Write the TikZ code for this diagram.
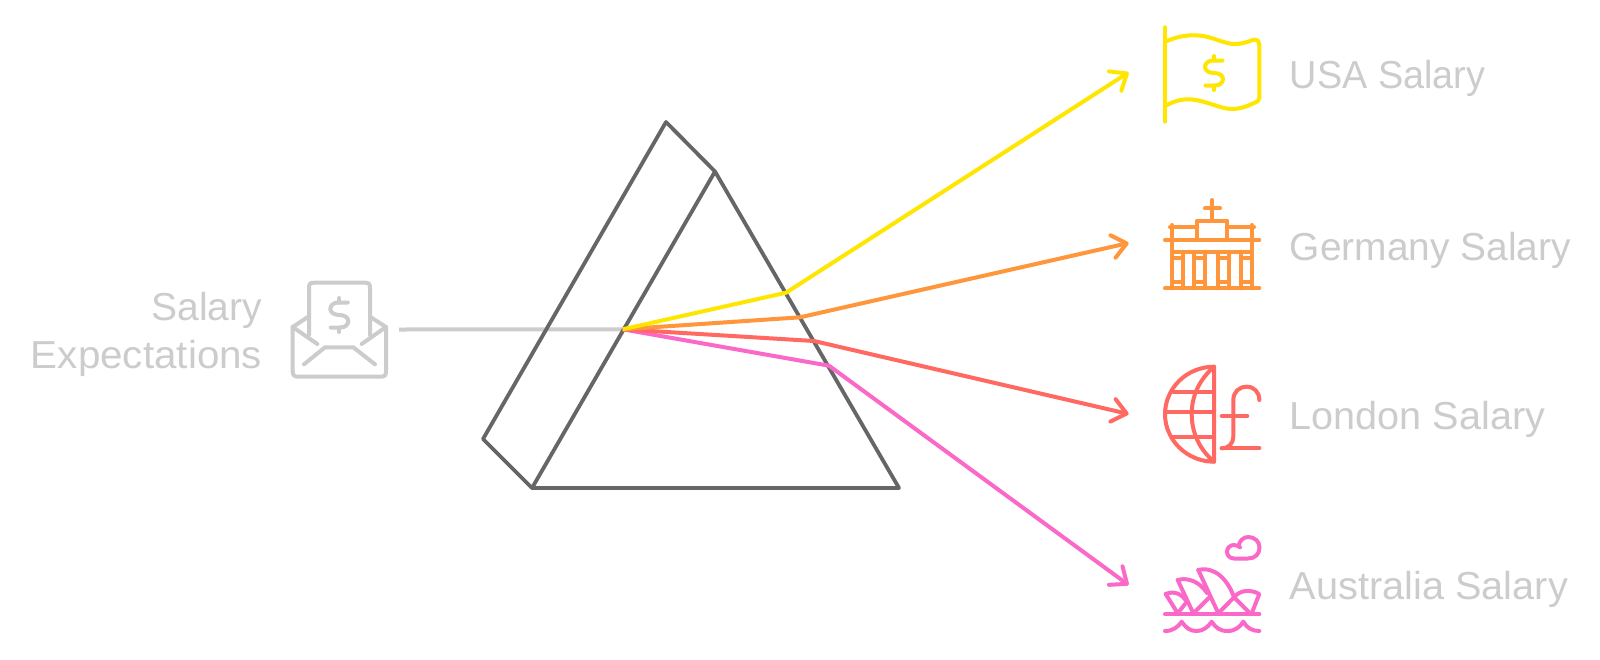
\documentclass[tikz,border=0pt]{standalone}
\usepackage{fontspec}
\setmainfont{Liberation Sans}
\usetikzlibrary{arrows.meta}
\definecolor{cgrey}{HTML}{CCCCCC}
\definecolor{cdark}{HTML}{666666}
\definecolor{cyel}{HTML}{FFE600}
\definecolor{corg}{HTML}{FF963C}
\definecolor{cred}{HTML}{FF6961}
\definecolor{cpink}{HTML}{FA69C8}
\tikzset{
  x=0.5pt,y=-0.5pt,
  icon/.style={line width=2pt,line cap=round,line join=round},
  ray/.style={line width=2pt,line join=round,-{Straight Barb[length=7pt,width=11.5pt,round]}},
  prismline/.style={draw=cdark,line width=1.9pt,line join=round},
  label/.style={text=cgrey,font=\fontsize{19.5pt}{24pt}\selectfont,inner sep=0pt},
  dollarsign/.pic={
    \draw[icon,pic actions] (8.5,-12.5) -- (-1,-12.5) .. controls (-6,-12.5) and (-9,-9.5) .. (-9,-6)
      .. controls (-9,-2.5) and (-5,0) .. (0,0) .. controls (5,0) and (9,2.5) .. (9,6)
      .. controls (9,9.5) and (6,12.5) .. (1,12.5) -- (-8.5,12.5);
    \draw[icon,pic actions] (0,-12.5) -- (0,-17) (0,12.5) -- (0,17);
  }
}
\begin{document}
\begin{tikzpicture}
\path[use as bounding box,fill=white] (0,0) rectangle (1600,659);
% coordinates
\coordinate (src) at (399,329.5);
\coordinate (focus) at (622.7,329.3);
\coordinate (ybend) at (786,292.7);
\coordinate (obend) at (800,317.3);
\coordinate (rbend) at (814,341);
\coordinate (pbend) at (829,365.7);
\coordinate (yend) at (1128.6,72.4);
\coordinate (oend) at (1128.6,243);
\coordinate (rend) at (1128.6,414);
\coordinate (pend) at (1128.6,585);
\coordinate (pa) at (666,122);
\coordinate (pb) at (715,171.5);
\coordinate (pc) at (899,488);
\coordinate (pd) at (532,488);
\coordinate (pe) at (483,439);
% beam in
\draw[cgrey,line width=2pt] (src) -- (focus);
% prism
\draw[prismline] (pa) -- (pb) -- (pc) -- (pd) -- (pe) -- cycle;
\draw[prismline] (pb) -- (pd);
% rays
\draw[ray,cpink] (focus) -- (pbend) -- (pend);
\draw[ray,cred] (focus) -- (rbend) -- (rend);
\draw[ray,corg] (focus) -- (obend) -- (oend);
\draw[ray,cyel] (focus) -- (ybend) -- (yend);
% labels
\node[label,anchor=east] (salary) at (262.5,310) {Salary};
\node[label,anchor=east] (expect) at (262.5,358) {\scalebox{1.035}[1]{Expectations}};
\node[label,anchor=west] (usa) at (1289.5,78.5) {\scalebox{0.97}[1]{USA Salary}};
\node[label,anchor=west] (ger) at (1289.5,250) {\scalebox{0.997}[1]{Germany Salary}};
\node[label,anchor=west] (lon) at (1289.5,419) {\scalebox{1.015}[1]{London Salary}};
\node[label,anchor=west] (aus) at (1289.5,589) {\scalebox{1.018}[1]{Australia Salary}};
% envelope icon
\begin{scope}[icon,cgrey]
\draw (309,335) -- (309,288) .. controls (309,284) and (310,282.7) .. (314,282.7) -- (365,282.7) .. controls (369,282.7) and (370,284) .. (370,288) -- (370,335);
\draw (308.3,316.7) -- (292.7,327) -- (292.7,371) .. controls (292.7,375) and (294,376.7) .. (298,376.7) -- (381,376.7) .. controls (385,376.7) and (386,375) .. (386,371) -- (386,327) -- (370,316.7);
\draw (292.7,327) -- (317.3,344);
\draw (386,327) -- (361.7,344);
\draw (304,364.3) -- (325,347.3) -- (353.3,347.3) -- (375,364.3);
\pic[cgrey] at (339.3,315) {dollarsign};
\end{scope}
% flag icon
\begin{scope}[icon,cyel]
\draw (1165.3,27.3) -- (1165.3,121.7);
\draw (1165.3,41.7) .. controls (1178,36) and (1190,34) .. (1203,36) .. controls (1215,38) and (1225,44) .. (1235,44) .. controls (1243,44) and (1250,41) .. (1254,39.5) .. controls (1257,39) and (1259.3,41) .. (1259.3,44) -- (1259.3,98) .. controls (1259.3,101) and (1257,102) .. (1254,103) .. controls (1248,106) and (1240,109) .. (1232,109) .. controls (1220,109) and (1205,100) .. (1190,99.3) .. controls (1180,99) and (1172,102) .. (1165.3,106);
\pic[cyel] at (1214,73) {dollarsign};
\end{scope}
% gate icon
\begin{scope}[icon,corg]
\draw (1211.7,200) -- (1211.7,220.7) (1205,208.3) -- (1220,208.3);
\draw (1197.3,240) -- (1197.3,220.7) -- (1227.3,220.7) -- (1227.3,240);
\draw (1165,240) -- (1259.3,240);
\draw (1170,227.3) -- (1197.3,227.3) (1227.3,227.3) -- (1254,227.3);
\draw (1172.3,225) -- (1172.3,288.3) (1251.7,225) -- (1251.7,288.3);
\draw (1172.3,251.7) -- (1251.7,251.7);
\draw (1165,288.3) -- (1259.3,288.3);
\foreach \cx in {1182.7,1194,1205,1218.3,1229.3,1240.7} \draw (\cx,251.7) -- (\cx,288.3);
\foreach \cy in {258.3,281.7} {
  \draw (1172.3,\cy) -- (1182.7,\cy) (1194,\cy) -- (1205,\cy) (1218.3,\cy) -- (1229.3,\cy) (1240.7,\cy) -- (1251.7,\cy);
}
\end{scope}
% globe pound icon
\begin{scope}[icon,cred]
\draw (1214,366.7) -- (1214,461.7) .. controls (1187,461.7) and (1165,440) .. (1165,414.2) .. controls (1165,388) and (1187,366.7) .. (1214,366.7);
\draw (1214,366.7) .. controls (1199,380) and (1191.7,396) .. (1191.7,414.2) .. controls (1191.7,432) and (1199,449) .. (1214,461.7);
\draw (1173.3,391.7) -- (1214,391.7) (1165,412.3) -- (1214,412.3) (1173.3,436.7) -- (1214,436.7);
\draw (1221.7,448.3) -- (1259.3,448.3);
\draw (1221.7,448.3) .. controls (1229,448.3) and (1233.3,443) .. (1233.3,436.7) -- (1233.3,400) .. controls (1233.3,392) and (1239,386.7) .. (1246.7,386.7) .. controls (1254,386.7) and (1259.3,392) .. (1259.3,400);
\draw (1221.7,416) -- (1247.3,416);
\end{scope}
% opera icon
\begin{scope}[icon,cpink]
\draw (1240,547.3) .. controls (1238.5,546) and (1236,545) .. (1234,545) .. controls (1230,545) and (1227,548) .. (1227,551.7) .. controls (1227,555.5) and (1230,558.5) .. (1234,558.5) -- (1248,558.5) .. controls (1255,558.5) and (1259.5,554) .. (1259.5,547.5) .. controls (1259.5,541) and (1254,537) .. (1248.3,537) .. controls (1243,537) and (1239.5,541) .. (1238.5,546);
\draw (1165,614.3) -- (1259.3,614.3);
\draw (1165,631) .. controls (1173,631) and (1178,627) .. (1181.7,621.7) .. controls (1186,628) and (1190,631) .. (1196.7,631) .. controls (1203,631) and (1208,627) .. (1211.7,621.7) .. controls (1216,628) and (1220,631) .. (1227.5,631) .. controls (1235,631) and (1240,627) .. (1243.3,621.7) .. controls (1247,628) and (1252,631) .. (1259.3,631);
\draw (1198.3,570) -- (1218.3,613.3);
\draw (1198.3,570) .. controls (1215,566) and (1228,580) .. (1234,597.3) -- (1218.3,613.3);
\draw (1177.7,580) -- (1193.3,613.3);
\draw (1177.7,580) .. controls (1188,577) and (1200,582) .. (1207,593);
\draw (1209.5,597.3) -- (1193.3,613.3);
\draw (1165.7,594) -- (1177.7,613.3);
\draw (1165.7,594) .. controls (1175,590) and (1183,595) .. (1186.7,602);
\draw (1185,604) -- (1177.7,613.3);
\draw (1234,597.3) .. controls (1240,590) and (1250,589) .. (1259.3,594) -- (1251.7,613.3);
\draw (1234,597.3) -- (1250,613.3);
\end{scope}
\end{tikzpicture}
\end{document}
